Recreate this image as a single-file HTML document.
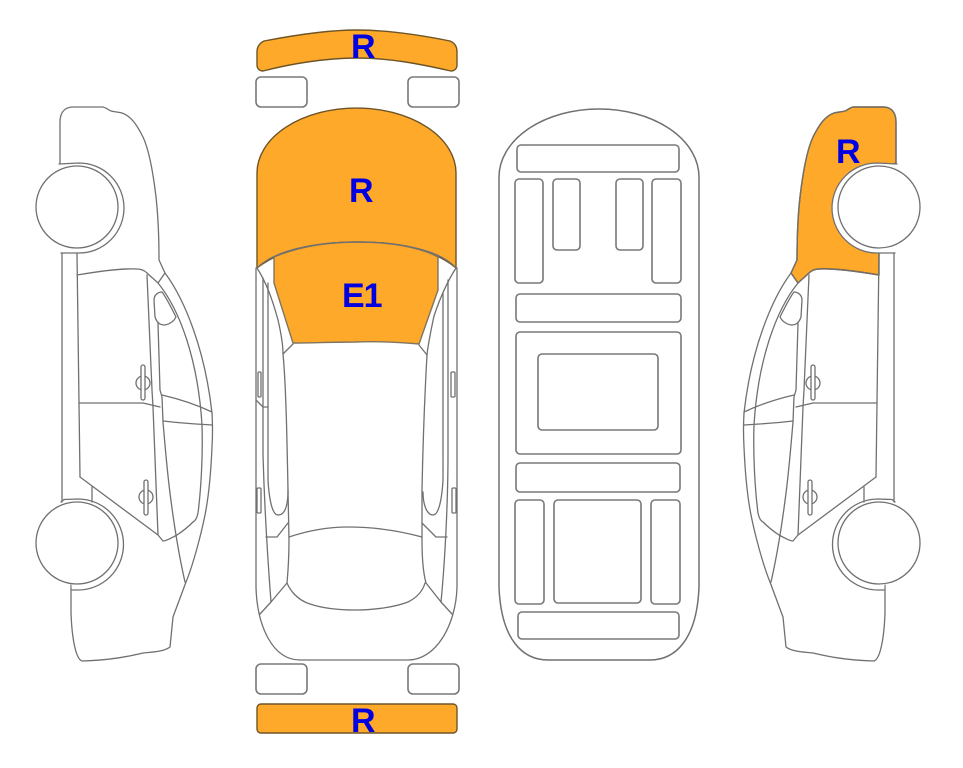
<!DOCTYPE html>
<html><head><meta charset="utf-8"><style>
html,body{margin:0;padding:0;background:#fff}
svg{display:block}
.l{fill:none;stroke:#707070;stroke-width:1.3;stroke-linejoin:round;stroke-linecap:round}
.r{fill:#fff;stroke:#787878;stroke-width:1.6}
.o{fill:#ffa92b;stroke:#6e5526;stroke-width:1.4;stroke-linejoin:round}
text{font-family:"Liberation Sans",sans-serif;font-weight:bold;fill:#0000e0;font-size:34px}
</style></head><body>
<svg width="963" height="768" viewBox="0 0 963 768" xmlns="http://www.w3.org/2000/svg">
<defs>
<g id="car">
<path class="l" d="M60,170 L60,122 C60,112 65,107 73,107 L102,107 C106,107 108,110 111,111 C115,112 118,112 122,113 C131,116 137,125 143,137 C150,152 154,180 156,197 C158,215 159,240 159,260 L165,273 C185,300 205,350 212,413 C213,430 212,447 212,447 C211,470 209,495 205,515 C201,535 193,565 186,582 L173,617 L170,647 C165,651 155,652 143,653 C130,656 113,660 82,661 C76,659 72,640 71,613 L71,585"/>
<path class="l" style="fill:#fff" d="M59,164 L79,163 A45,45 0 0 1 79,253 L61,253"/>
<path class="l" style="fill:#fff" d="M61,502 L64,499.5 L78,499 A45.5,45.5 0 0 1 78,590 L72,590"/>
<circle class="l" style="fill:#fff" cx="77" cy="207" r="41"/>
<circle class="l" style="fill:#fff" cx="77" cy="543" r="41"/>
<path class="l" d="M62,253 L62,502 M77,253 L79,403 L80,477 M92,487 L92,502"/>
<path class="l" d="M77,275 C95,272 120,268 137,269 C142,269 145,271 147,273 C150,276 155,280 158,283 C180,310 198,360 202,425 C203,455 201,490 198,513 C197,518 195,521 193,522 C187,528 180,533 177,535 C171,538 167,541 163,541 L158,535 L80,477"/>
<path class="l" d="M147,275 L152,390 L153,407 L158,535"/>
<path class="l" d="M158,323 L160,390 L162,397 L163,422 C165,445 167,470 170,493 C174,525 180,560 185,582"/>
<path class="l" d="M158,283 L165,273"/>
<path class="l" style="fill:#fff" d="M154,300 C154,295 158,292 162,292 C166,297 172,309 176,317 C174,321 170,324 165,325 C160,325 157,323 155,317 Z"/>
<path class="l" d="M79,403 L143,403 L160,407"/>
<path class="l" d="M162,395 C175,398 195,404 212,412 M163,421 C180,423 195,424 212,425"/>
<circle class="l" cx="143" cy="383" r="7"/>
<rect class="l" style="fill:#fff" x="141" y="365" width="4" height="35" rx="2"/>
<circle class="l" cx="146" cy="497" r="7"/>
<rect class="l" style="fill:#fff" x="144" y="480" width="4" height="35" rx="2"/>
</g>
</defs>

<!-- left side -->
<use href="#car"/>

<!-- right side -->
<g transform="translate(956,0) scale(-1,1)">
<path class="o" d="M60,163 L60,122 C60,112 65,107 73,107 L102,107 C106,107 108,110 111,111 C115,112 118,112 122,113 C131,116 137,125 143,137 C150,152 154,180 156,197 C158,215 159,240 159,260 L165,273 L158,283 C155,280 150,276 147,273 C145,271 142,269 137,269 C120,268 95,272 77,275 L77,253 L85,240 L85,175 Z"/>
<use href="#car"/>
</g>

<!-- top view -->
<path class="o" d="M257,52 C257,46 260,43 264,41 C290,36 325,30 357,30 C390,30 425,36 450,41 C455,43 457,47 457,52 L457,65 C457,69 454,71 451,71 C420,64 390,58 357,58 C325,58 290,64 263,71 C260,71 257,69 257,65 Z"/>
<rect class="r" x="256" y="77" width="51" height="30" rx="5"/>
<rect class="r" x="408" y="77" width="51" height="30" rx="5"/>

<path class="l" d="M256,268 L256,587 C257,625 272,660 300,660 L408,660 C436,660 456,625 457,587 L457,268"/>
<path class="l" d="M257,268 C266,282 272,298 278,320 C281,333 283,345 283,354 C286,385 287,440 288,490 L289,540 C289,560 288,572 287,583 M287,583 C290,590 297,600 310,604 C325,609 340,610 355,610 C375,610 395,607 408,602 C418,597 423,590 425,583"/>
<path class="l" d="M456,268 C447,282 440,298 434,316 C431,330 428,345 427,355 C425,390 423,440 422,490 L422,540 C422,555 423,572 426,583"/>
<path class="l" d="M283,354 L293,344 M427,355 L419,345"/>
<path class="l" d="M289,537 C310,530 330,527 348,527 C375,527 400,531 422,537"/>
<path class="l" d="M263,278 L263,455 C264,490 267,550 271,602 M268,283 L268,480 C269,498 272,515 278,515 C284,515 288,508 288,490"/>
<path class="l" d="M448,280 L448,455 C448,490 446,550 441,602 M443,293 L443,480 C442,498 439,515 433,515 C427,515 423,505 423,492"/>
<path class="l" d="M260,614 L271,602 L287,583 M452,614 L441,602 L426,583"/>
<path class="l" d="M256,400 L263,407 L268,407 M266,537 L277,537 L288,523 M422,523 L436,537 L447,537"/>
<rect class="l" x="258" y="372" width="3" height="25" rx="1"/>
<rect class="l" x="257" y="488" width="4" height="25" rx="1"/>
<rect class="l" x="451" y="372" width="4" height="25" rx="1"/>
<rect class="l" x="452" y="488" width="4" height="25" rx="1"/>

<path class="o" d="M257,268 L257,173 A99.5,65 0 0 1 456,173 L456,268 C435,250 400,242 358,242 C315,242 280,250 257,268 Z"/>
<path class="o" style="stroke:#80755f" d="M274,257 C300,246 330,242 358,242 C390,242 420,247 438,257 L438,290 L419,344 C395,342 375,341 355,342 C335,342 310,343 293,343 L274,283 Z"/>
<path class="l" d="M257,268 C275,250 315,242 358,242 C400,242 440,250 456,268"/>

<rect class="r" x="256" y="664" width="51" height="30" rx="5"/>
<rect class="r" x="408" y="664" width="51" height="30" rx="5"/>
<rect class="o" x="257" y="704" width="200" height="29" rx="4"/>

<!-- underside -->
<path class="l" style="stroke-width:1.5" d="M499,177 A100,68 0 0 1 699,177 L699,587 C697,640 675,660 650,660 L548,660 C523,660 501,640 499,587 Z"/>
<g class="r" style="fill:none">
<rect x="517" y="145" width="162" height="27" rx="4"/>
<rect x="515" y="179" width="28" height="104" rx="4"/>
<rect x="553" y="179" width="27" height="71" rx="4"/>
<rect x="616" y="179" width="27" height="71" rx="4"/>
<rect x="652" y="179" width="29" height="104" rx="4"/>
<rect x="516" y="294" width="165" height="28" rx="4"/>
<rect x="516" y="332" width="165" height="122" rx="4"/>
<rect x="538" y="354" width="120" height="76" rx="4"/>
<rect x="516" y="463" width="164" height="29" rx="4"/>
<rect x="515" y="500" width="29" height="104" rx="4"/>
<rect x="554" y="500" width="87" height="103" rx="4"/>
<rect x="651" y="500" width="29" height="104" rx="4"/>
<rect x="518" y="612" width="161" height="27" rx="4"/>
</g>

<text x="351" y="58">R</text>
<text x="349" y="202">R</text>
<text x="342" y="307" style="letter-spacing:-1px">E1</text>
<text x="836" y="163">R</text>
<text x="351" y="732">R</text>
</svg>
</body></html>
